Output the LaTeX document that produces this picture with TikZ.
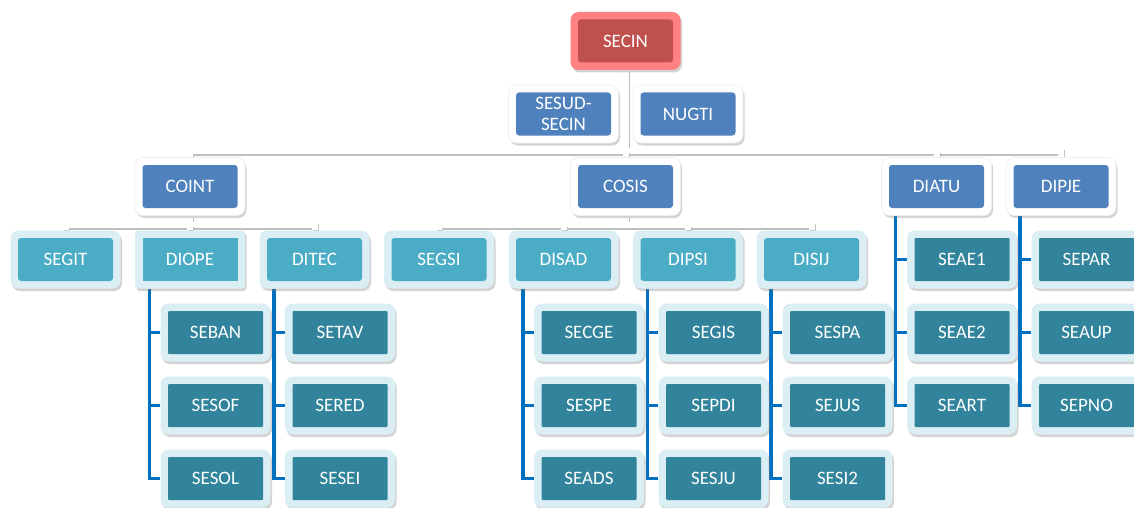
\documentclass[tikz,border=0pt]{standalone}
\usepackage{fontspec}
\setmainfont{Carlito}
\usetikzlibrary{shadows}
\pgfdeclarelayer{background}
\pgfsetlayers{background,main}
\definecolor{pinkout}{RGB}{255,130,130}
\definecolor{redin}{RGB}{192,80,77}
\definecolor{bluein}{RGB}{79,129,189}
\definecolor{tealin}{RGB}{75,172,198}
\definecolor{darkin}{RGB}{49,132,155}
\definecolor{paleout}{RGB}{218,238,243}
\definecolor{lineblue}{RGB}{0,112,192}
\newcommand\obox[6]{%
  \node[box,#4] (#1) at (#2,#3) {};
  \node[inbox,#5] (#1-in) at (#2,#3) {#6};}
\newcommand\branch[4]{%
  \coordinate (#1-l) at ([xshift=14.5pt]#1.south west);
  \draw[bline] (#1-l) |- (#4.west);
  \draw[bline] (#2.west) -- (#2.west -| #1-l);
  \draw[bline] (#3.west) -- (#3.west -| #1-l);}
\begin{document}
\begin{tikzpicture}[x=1pt,y=-1pt,
  box/.style={minimum width=110pt, minimum height=58pt, rounded corners=8pt, inner sep=0pt,
    drop shadow={opacity=0.35, shadow xshift=1.5pt, shadow yshift=-2.5pt}},
  inbox/.style={minimum width=95pt, minimum height=43pt, rounded corners=3pt, inner sep=0pt,
    text=white, font=\fontsize{19}{21}\selectfont, align=center},
  topout/.style={fill=pinkout}, topin/.style={fill=redin},
  l1out/.style={fill=white, draw=black!7, line width=0.6pt}, l1in/.style={fill=bluein},
  l2out/.style={fill=paleout}, l2in/.style={fill=tealin},
  l3out/.style={fill=paleout}, l3in/.style={fill=darkin, rounded corners=1pt},
  conn/.style={draw=white, line width=6pt,
    preaction={draw=gray!50, line width=6pt, transform canvas={shift={(1pt,-1.8pt)}}}},
  bline/.style={draw=lineblue, line width=3.5pt}]
\useasboundingbox (0,0) rectangle (1134,508);

% ---------- boxes ----------
\obox{secin}{625.5}{41}{topout}{topin}{SECIN}
\obox{sesud}{563.5}{114}{l1out}{l1in}{SESUD-\\SECIN}
\obox{nugti}{688}{114}{l1out}{l1in}{NUGTI}
\obox{coint}{190}{186.5}{l1out}{l1in}{COINT}
\obox{cosis}{625.5}{186.5}{l1out}{l1in}{COSIS}
\obox{diatu}{936.5}{186.5}{l1out}{l1in}{DIATU}
\obox{dipje}{1061}{186.5}{l1out}{l1in}{DIPJE}

\obox{segit}{65.5}{259.5}{l2out}{l2in}{SEGIT}
\obox{diope}{190}{259.5}{l2out,rounded corners=3pt}{l2in,rounded corners=0pt}{DIOPE}
\obox{ditec}{314.5}{259.5}{l2out}{l2in}{DITEC}
\obox{segsi}{439}{259.5}{l2out}{l2in}{SEGSI}
\obox{disad}{563.5}{259.5}{l2out}{l2in}{DISAD}
\obox{dipsi}{688}{259.5}{l2out}{l2in}{DIPSI}
\obox{disij}{811.5}{259.5}{l2out}{l2in}{DISIJ}

\obox{seban}{215.5}{332.5}{l3out}{l3in}{SEBAN}
\obox{sesof}{215.5}{405.5}{l3out}{l3in}{SESOF}
\obox{sesol}{215.5}{478.5}{l3out}{l3in}{SESOL}
\obox{setav}{340}{332.5}{l3out}{l3in}{SETAV}
\obox{sered}{340}{405.5}{l3out}{l3in}{SERED}
\obox{sesei}{340}{478.5}{l3out}{l3in}{SESEI}
\obox{secge}{589}{332.5}{l3out}{l3in}{SECGE}
\obox{sespe}{589}{405.5}{l3out}{l3in}{SESPE}
\obox{seads}{589}{478.5}{l3out}{l3in}{SEADS}
\obox{segis}{713.5}{332.5}{l3out}{l3in}{SEGIS}
\obox{sepdi}{713.5}{405.5}{l3out}{l3in}{SEPDI}
\obox{sesju}{713.5}{478.5}{l3out}{l3in}{SESJU}
\obox{sespa}{837.5}{332.5}{l3out}{l3in}{SESPA}
\obox{sejus}{837.5}{405.5}{l3out}{l3in}{SEJUS}
\obox{sesi2}{837.5}{478.5}{l3out}{l3in}{SESI2}
\obox{seae1}{962}{259.5}{l3out}{l3in}{SEAE1}
\obox{seae2}{962}{332.5}{l3out}{l3in}{SEAE2}
\obox{seart}{962}{405.5}{l3out}{l3in}{SEART}
\obox{separ}{1086.5}{259.5}{l3out}{l3in}{SEPAR}
\obox{seaup}{1086.5}{332.5}{l3out}{l3in}{SEAUP}
\obox{sepno}{1086.5}{405.5}{l3out}{l3in}{SEPNO}

% ---------- connectors (behind the boxes) ----------
\begin{pgfonlayer}{background}
\path (secin.south) ++(0,81) coordinate (j0);
\path (coint.south) ++(0,9.5) coordinate (j1);
\path (cosis.south) ++(0,9.5) coordinate (j2);
\draw[conn] (secin) -- (j0);
\draw[conn] (coint) |- (j0) -| (dipje);
\draw[conn] (cosis) -- (cosis |- j0);
\draw[conn] (diatu) -- (diatu |- j0);
\draw[conn] (coint) -- (j1);
\draw[conn] (segit) |- (j1) -| (ditec);
\draw[conn] (diope) -- (diope |- j1);
\draw[conn] (cosis) -- (j2);
\draw[conn] (segsi) |- (j2) -| (disij);
\draw[conn] (disad) -- (disad |- j2);
\draw[conn] (dipsi) -- (dipsi |- j2);

\branch{diope}{seban}{sesof}{sesol}
\branch{ditec}{setav}{sered}{sesei}
\branch{disad}{secge}{sespe}{seads}
\branch{dipsi}{segis}{sepdi}{sesju}
\branch{disij}{sespa}{sejus}{sesi2}
\branch{diatu}{seae1}{seae2}{seart}
\branch{dipje}{separ}{seaup}{sepno}
\end{pgfonlayer}
\end{tikzpicture}
\end{document}
